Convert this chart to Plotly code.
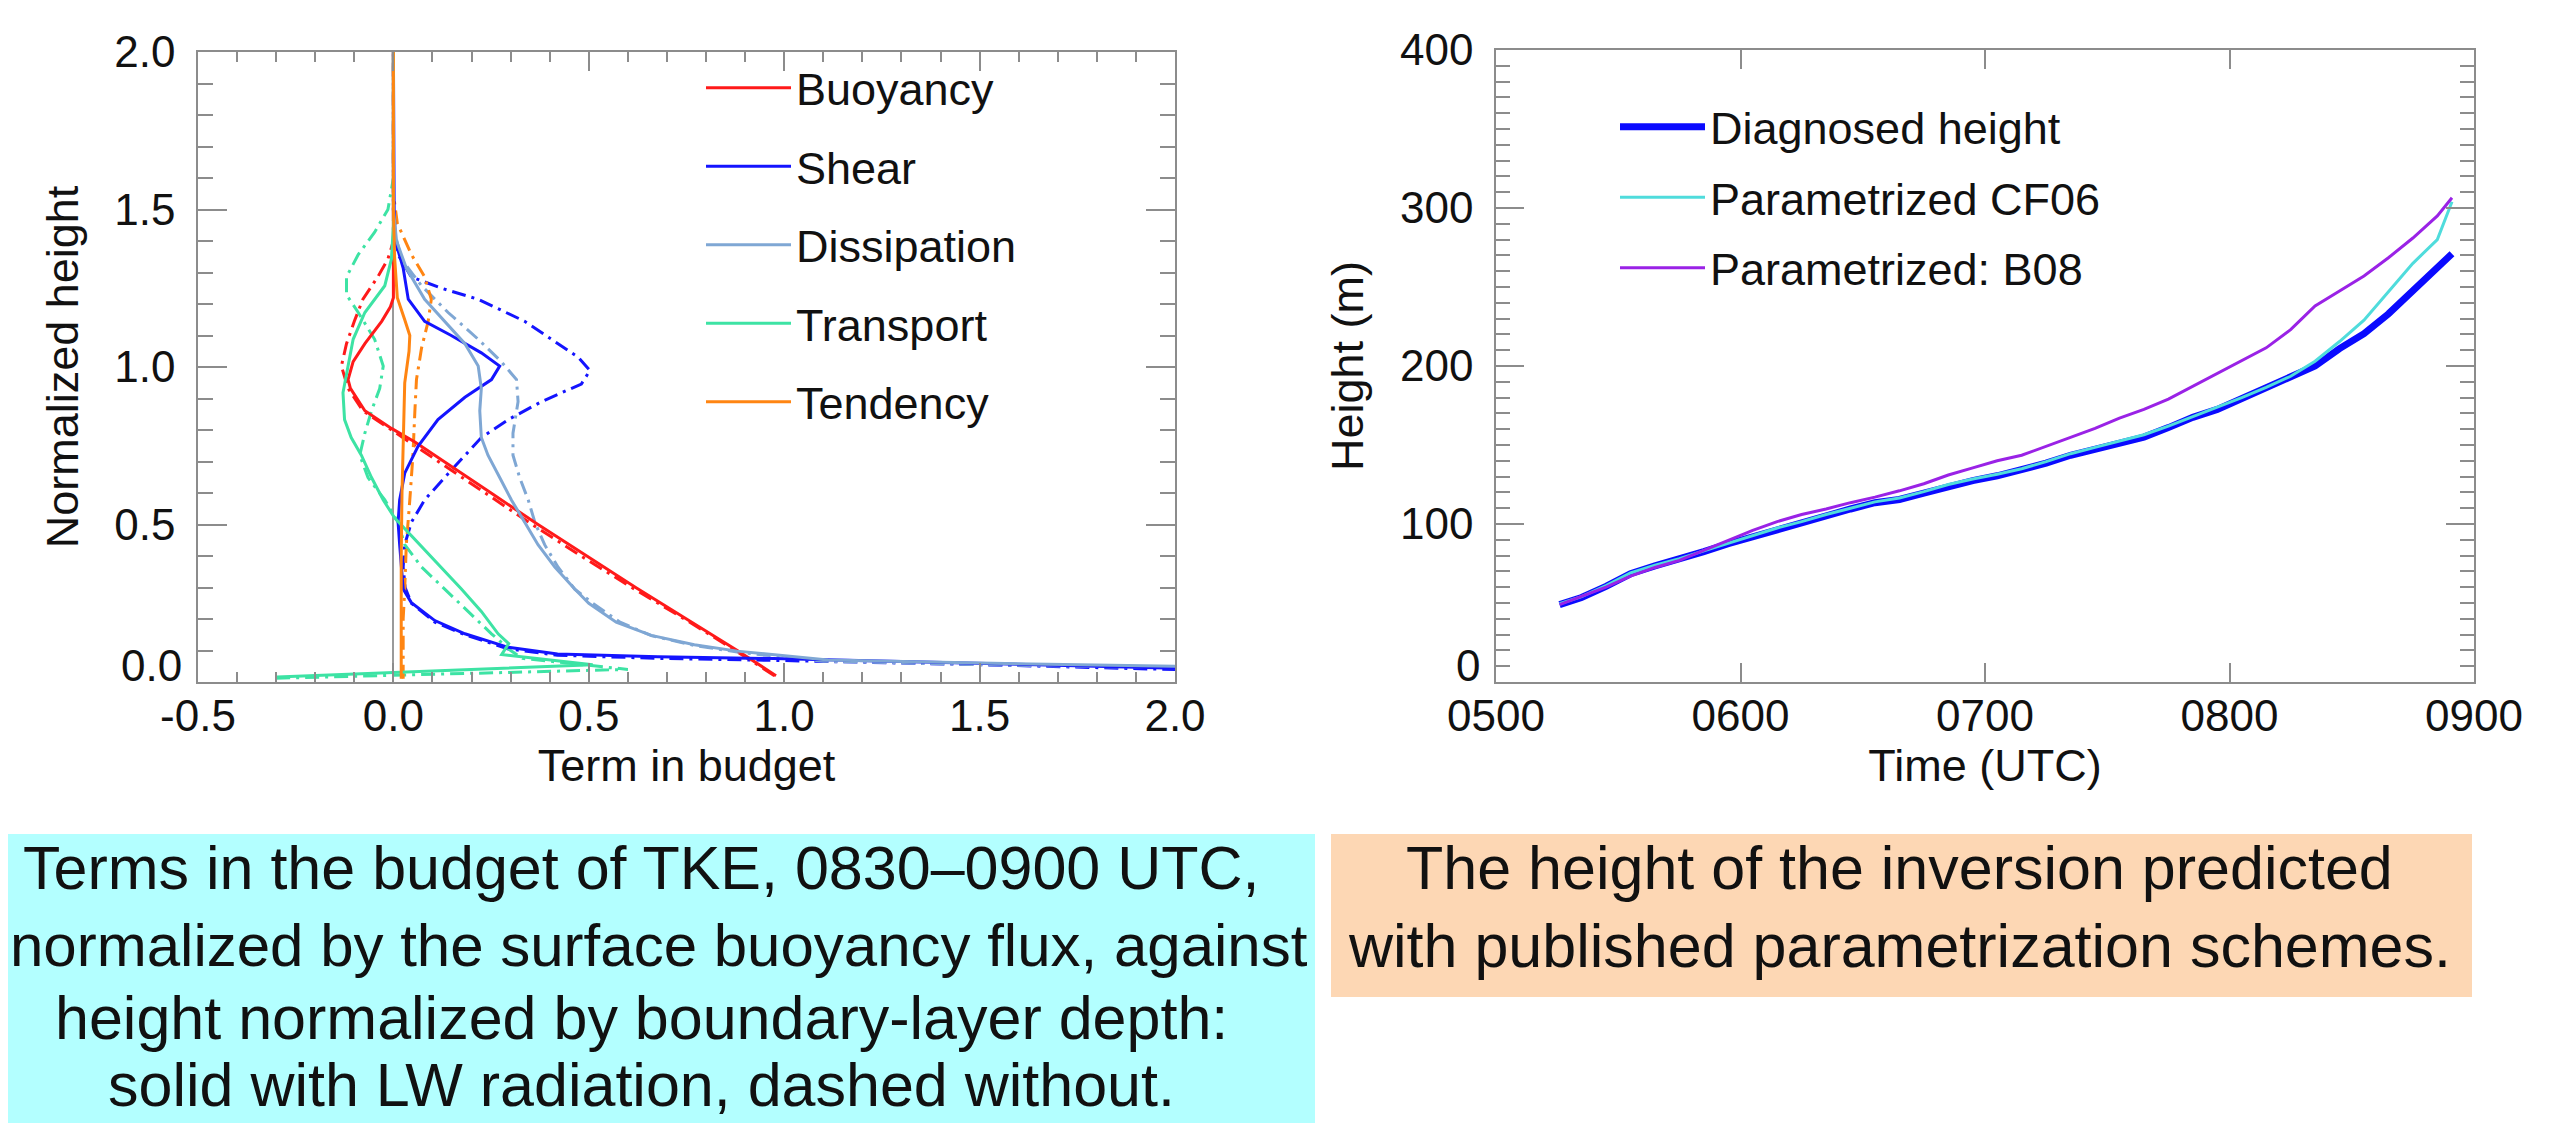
import plotly.graph_objects as go

W, H = 2561, 1123
FONT = "Liberation Sans, Arial, Helvetica, sans-serif"
AX = "#8c8c8c"
TXT = "#111111"

# ---------------- Left panel: TKE budget terms (x = term, y = normalized height)
buoy_lw_x = [0.979, 0.88, 0.75, 0.62, 0.495, 0.37, 0.25, 0.13, 0.055, -0.005, -0.073, -0.11, -0.116, -0.103, -0.073, -0.03, -0.008, 0.0, 0.0, 0.0]
buoy_lw_z = [0.02, 0.10, 0.20, 0.30, 0.40, 0.50, 0.60, 0.70, 0.762, 0.805, 0.861, 0.932, 0.96, 1.017, 1.074, 1.145, 1.19, 1.22, 1.40, 2.0]
buoy_no_x = [0.975, 0.875, 0.745, 0.61, 0.48, 0.355, 0.235, 0.115, 0.03, -0.02, -0.078, -0.116, -0.133, -0.12, -0.10, -0.078, -0.04, -0.014, 0.0, 0.0]
buoy_no_z = [0.02, 0.10, 0.20, 0.30, 0.40, 0.50, 0.60, 0.70, 0.77, 0.81, 0.861, 0.932, 1.003, 1.074, 1.145, 1.215, 1.286, 1.343, 1.40, 2.0]

shear_lw_x = [2.3, 2.0, 1.5, 1.0, 0.677, 0.42, 0.294, 0.183, 0.106, 0.046, 0.025, 0.02, 0.016, 0.012, 0.016, 0.029, 0.063, 0.114, 0.183, 0.251, 0.272, 0.225, 0.148, 0.08, 0.038, 0.025, 0.005, 0.002, 0.0]
shear_lw_z = [0.035, 0.044, 0.06, 0.074, 0.08, 0.089, 0.11, 0.153, 0.195, 0.252, 0.295, 0.365, 0.436, 0.507, 0.578, 0.663, 0.748, 0.833, 0.904, 0.96, 1.003, 1.045, 1.10, 1.145, 1.215, 1.314, 1.40, 1.50, 2.0]
shear_no_x = [2.3, 2.0, 1.5, 1.0, 0.677, 0.42, 0.294, 0.183, 0.106, 0.046, 0.03, 0.025, 0.029, 0.046, 0.08, 0.131, 0.183, 0.225, 0.294, 0.379, 0.481, 0.503, 0.473, 0.421, 0.336, 0.217, 0.123, 0.046, 0.015, 0.005, 0.0, 0.0]
shear_no_z = [0.03, 0.04, 0.055, 0.068, 0.075, 0.085, 0.105, 0.15, 0.19, 0.25, 0.30, 0.365, 0.436, 0.507, 0.578, 0.649, 0.72, 0.776, 0.833, 0.89, 0.946, 0.989, 1.031, 1.074, 1.145, 1.215, 1.25, 1.286, 1.35, 1.40, 1.50, 2.0]

diss_lw_x = [2.3, 2.0, 1.5, 1.112, 0.88, 0.77, 0.66, 0.57, 0.50, 0.464, 0.413, 0.37, 0.336, 0.302, 0.272, 0.242, 0.225, 0.221, 0.225, 0.217, 0.183, 0.131, 0.08, 0.033, 0.008, 0.0, 0.0]
diss_lw_z = [0.04, 0.05, 0.06, 0.07, 0.098, 0.118, 0.148, 0.19, 0.25, 0.295, 0.365, 0.436, 0.507, 0.578, 0.649, 0.72, 0.776, 0.861, 0.932, 1.003, 1.074, 1.145, 1.215, 1.314, 1.40, 1.50, 2.0]
diss_no_x = [2.3, 2.0, 1.5, 1.1, 0.88, 0.77, 0.66, 0.58, 0.51, 0.464, 0.421, 0.387, 0.362, 0.345, 0.323, 0.306, 0.306, 0.319, 0.315, 0.276, 0.217, 0.14, 0.072, 0.02, 0.005, 0.0, 0.0]
diss_no_z = [0.035, 0.045, 0.055, 0.066, 0.095, 0.116, 0.147, 0.19, 0.25, 0.295, 0.365, 0.436, 0.507, 0.578, 0.649, 0.72, 0.79, 0.89, 0.96, 1.017, 1.088, 1.173, 1.258, 1.343, 1.42, 1.50, 2.0]

trans_lw_x = [-0.298, 0.51, 0.277, 0.295, 0.268, 0.225, 0.174, 0.131, 0.089, 0.046, 0.003, -0.026, -0.056, -0.082, -0.108, -0.125, -0.129, -0.116, -0.103, -0.073, -0.022, -0.005, 0.0, 0.0]
trans_lw_z = [0.016, 0.055, 0.087, 0.122, 0.153, 0.224, 0.295, 0.351, 0.408, 0.465, 0.521, 0.578, 0.649, 0.72, 0.776, 0.833, 0.918, 1.003, 1.088, 1.173, 1.258, 1.343, 1.45, 2.0]
trans_no_x = [-0.30, 0.60, 0.33, 0.30, 0.251, 0.191, 0.131, 0.072, 0.029, 0.012, -0.022, -0.065, -0.086, -0.073, -0.056, -0.035, -0.026, -0.048, -0.09, -0.12, -0.12, -0.09, -0.048, -0.014, 0.0, 0.0]
trans_no_z = [0.012, 0.04, 0.075, 0.10, 0.153, 0.224, 0.295, 0.365, 0.436, 0.507, 0.578, 0.649, 0.72, 0.79, 0.861, 0.932, 1.003, 1.088, 1.173, 1.229, 1.286, 1.357, 1.428, 1.50, 1.60, 2.0]

tend_lw_x = [0.02, 0.02, 0.022, 0.025, 0.029, 0.04, 0.042, 0.029, 0.01, 0.003, 0.0, 0.0]
tend_lw_z = [0.01, 0.40, 0.60, 0.80, 0.95, 1.05, 1.10, 1.15, 1.22, 1.35, 1.50, 2.0]
tend_no_x = [0.025, 0.025, 0.029, 0.033, 0.042, 0.05, 0.055, 0.059, 0.072, 0.089, 0.097, 0.08, 0.046, 0.01, 0.0, 0.0]
tend_no_z = [0.01, 0.20, 0.295, 0.436, 0.578, 0.72, 0.861, 0.96, 1.06, 1.145, 1.215, 1.286, 1.357, 1.456, 1.55, 2.0]

budget_names = ["Buoyancy", "Shear", "Dissipation", "Transport", "Tendency"]
budget_colors = ["#ff1a1a", "#1414ff", "#7fa7d4", "#3de3a4", "#ff8512"]
budget_xticks = [-0.5, 0.0, 0.5, 1.0, 1.5, 2.0]
budget_xlabels = ["-0.5", "0.0", "0.5", "1.0", "1.5", "2.0"]
budget_yticks = [0.0, 0.5, 1.0, 1.5, 2.0]
budget_ylabels = ["", "0.5", "1.0", "1.5", "2.0"]   # "0.0" is drawn slightly raised, as in the original

# ---------------- Right panel: inversion height vs time (hours UTC)
time_h = [5.26, 5.35, 5.45, 5.55, 5.65, 5.75, 5.85, 5.95, 6.05, 6.15, 6.25, 6.35, 6.45, 6.55, 6.65, 6.75, 6.85, 6.95, 7.05,
          7.15, 7.25, 7.35, 7.45, 7.55, 7.65, 7.75, 7.85, 7.95, 8.05, 8.15, 8.25, 8.35, 8.45, 8.55, 8.65, 8.75, 8.85, 8.91]
diag_h = [49, 53.5, 60.5, 68.5, 73.5, 77.5, 82.5, 87.5, 92, 97, 100.5, 105, 109.5, 113.5, 115.5, 119.5, 124, 127.5, 130.5,
          134, 138.5, 143.5, 147.5, 151, 155, 161, 167.5, 172.5, 179.5, 186, 193, 200, 211, 220.5, 233, 248, 262.5, 271]
cf06_h = [49.5, 54, 61, 69, 74, 78, 83, 88, 92.5, 97.5, 101.5, 106, 110, 114, 116.5, 120.5, 125, 128.5, 131.5,
          135, 139.5, 144.5, 148.5, 152.5, 156.5, 162, 168, 173.5, 180, 186.5, 193.5, 203, 215.5, 229, 247, 265, 280, 304]
b08_h = [49, 54, 60, 67, 72.5, 77, 83.5, 90, 96, 101.5, 106, 109.5, 113.5, 117, 121, 125.5, 131, 135.5, 140,
         143.5, 149, 155, 160.5, 167, 172.5, 179, 187, 195, 203, 211.5, 223, 238, 247.5, 257, 268.5, 281, 295, 306.5]
time_ticks = [5, 6, 7, 8, 9]
time_labels = ["0500", "0600", "0700", "0800", "0900"]
height_ticks = [0, 100, 200, 300, 400]
height_labels = ["", "100", "200", "300", "400"]      # "0" drawn slightly raised

caption_left = ["Terms in the budget of TKE, 0830–0900 UTC,",
                "normalized by the surface buoyancy flux, against",
                "height normalized by boundary-layer depth:",
                "solid with LW radiation, dashed without."]
caption_right = ["The height of the inversion predicted",
                 "with published parametrization schemes."]

DASH = "14px,6px,3px,6px"

fig = go.Figure()

lw_sets = [(buoy_lw_x, buoy_lw_z), (shear_lw_x, shear_lw_z), (diss_lw_x, diss_lw_z), (trans_lw_x, trans_lw_z), (tend_lw_x, tend_lw_z)]
no_sets = [(buoy_no_x, buoy_no_z), (shear_no_x, shear_no_z), (diss_no_x, diss_no_z), (trans_no_x, trans_no_z), (tend_no_x, tend_no_z)]

for name, col, (nx, nz) in zip(budget_names, budget_colors, no_sets):
    fig.add_trace(go.Scatter(x=nx, y=nz, mode="lines", line=dict(color=col, width=3, dash=DASH),
                             showlegend=False, legendgroup=name, xaxis="x", yaxis="y", hoverinfo="skip"))
for name, col, (sx, sz) in zip(budget_names, budget_colors, lw_sets):
    fig.add_trace(go.Scatter(x=sx, y=sz, mode="lines", name=name, line=dict(color=col, width=3),
                             legendgroup=name, legend="legend", xaxis="x", yaxis="y"))

fig.add_trace(go.Scatter(x=time_h, y=diag_h, mode="lines", name="Diagnosed height", legendgroup="diag",
                         line=dict(color="#0a0aff", width=7), legend="legend2", xaxis="x2", yaxis="y2"))
fig.add_trace(go.Scatter(x=time_h, y=cf06_h, mode="lines", name="Parametrized CF06", legendgroup="cf06",
                         line=dict(color="#4fdcdc", width=3), legend="legend2", xaxis="x2", yaxis="y2"))
fig.add_trace(go.Scatter(x=time_h, y=b08_h, mode="lines", name="Parametrized: B08", legendgroup="b08",
                         line=dict(color="#9a22e6", width=3), legend="legend2", xaxis="x2", yaxis="y2"))

common_axis = dict(showline=True, linecolor=AX, linewidth=1.5, mirror="allticks", showgrid=False,
                   ticks="inside", tickcolor=AX, tickwidth=1.5, automargin=False,
                   tickfont=dict(family=FONT, size=44, color=TXT),
                   title_font=dict(family=FONT, size=45, color=TXT))

top, bot = 44, 674
annotations = []
# raised bottom y tick labels
annotations.append(dict(xref="paper", yref="paper", x=176 / W, y=1 - 657 / H, xanchor="right", yanchor="middle",
                        showarrow=False, text="0.0", font=dict(family=FONT, size=44, color=TXT)))
annotations.append(dict(xref="paper", yref="paper", x=1474 / W, y=1 - 657 / H, xanchor="right", yanchor="middle",
                        showarrow=False, text="0", font=dict(family=FONT, size=44, color=TXT)))
# captions, one annotation per line
left_cx = [633, 651, 633, 633]
left_cy = [860, 937, 1010, 1077]
left_fs = [61, 60, 61, 61]
for t, cx, cy, fs in zip(caption_left, left_cx, left_cy, left_fs):
    annotations.append(dict(xref="paper", yref="paper", x=cx / W, y=1 - cy / H, xanchor="center", yanchor="middle",
                            showarrow=False, text=t, font=dict(family=FONT, size=fs, color=TXT)))
for t, cy in zip(caption_right, [860, 938]):
    annotations.append(dict(xref="paper", yref="paper", x=1892 / W, y=1 - cy / H, xanchor="center", yanchor="middle",
                            showarrow=False, text=t, font=dict(family=FONT, size=61, color=TXT)))

fig.update_layout(
    width=W, height=H, margin=dict(l=0, r=0, t=0, b=0, autoexpand=False),
    paper_bgcolor="white", plot_bgcolor="white",
    font=dict(family=FONT, color=TXT),
    xaxis=dict(domain=[190 / W, 1167 / W], range=[-0.5, 2.0], tickmode="array",
               tickvals=budget_xticks, ticktext=budget_xlabels,
               ticklen=19, minor=dict(ticks="inside", tickmode="linear", tick0=0, dtick=0.1, ticklen=10, tickcolor=AX, tickwidth=1.5),
               zeroline=True, zerolinecolor="#9a9a9a", zerolinewidth=1.5,
               title=dict(text="Term in budget", standoff=0), ticklabelstandoff=-6, anchor="y", **common_axis),
    yaxis=dict(domain=[1 - bot / H, 1 - top / H], range=[0, 2.0], tickmode="array", tickvals=budget_yticks, ticktext=budget_ylabels,
               ticklen=29, minor=dict(ticks="inside", tickmode="linear", tick0=0, dtick=0.1, ticklen=15, tickcolor=AX, tickwidth=1.5),
               zeroline=False, title=dict(text="Normalized height", standoff=22), ticklabelstandoff=12, anchor="x", **common_axis),
    xaxis2=dict(domain=[1488 / W, 2466 / W], range=[5, 9], tickmode="array", tickvals=time_ticks, ticktext=time_labels,
                ticklen=19, zeroline=False, title=dict(text="Time (UTC)", standoff=0), ticklabelstandoff=-6, anchor="y2", **common_axis),
    yaxis2=dict(domain=[1 - bot / H, 1 - 42 / H], range=[0, 400], tickmode="array", tickvals=height_ticks, ticktext=height_labels,
                ticklen=28, minor=dict(ticks="inside", tickmode="linear", tick0=0, dtick=10, ticklen=14, tickcolor=AX, tickwidth=1.5),
                zeroline=False, title=dict(text="Height (m)", standoff=22), ticklabelstandoff=12, anchor="x2", **common_axis),
    legend=dict(x=693 / W, y=1 - 44 / H, xanchor="left", yanchor="top", bgcolor="rgba(0,0,0,0)", borderwidth=0,
                font=dict(family=FONT, size=45, color=TXT), tracegroupgap=17, itemwidth=85, traceorder="grouped"),
    legend2=dict(x=1607 / W, y=1 - 83 / H, xanchor="left", yanchor="top", bgcolor="rgba(0,0,0,0)", borderwidth=0,
                 font=dict(family=FONT, size=45, color=TXT), tracegroupgap=9, itemwidth=85, traceorder="grouped"),
    shapes=[
        dict(type="rect", xref="paper", yref="paper", x0=0, x1=1307 / W, y0=0, y1=1 - 826 / H,
             fillcolor="#b3ffff", line=dict(width=0), layer="below"),
        dict(type="rect", xref="paper", yref="paper", x0=1323 / W, x1=2464 / W, y0=1 - 989 / H, y1=1 - 826 / H,
             fillcolor="#fdd7b4", line=dict(width=0), layer="below"),
    ],
    annotations=annotations,
)

fig.write_html("out.html")
